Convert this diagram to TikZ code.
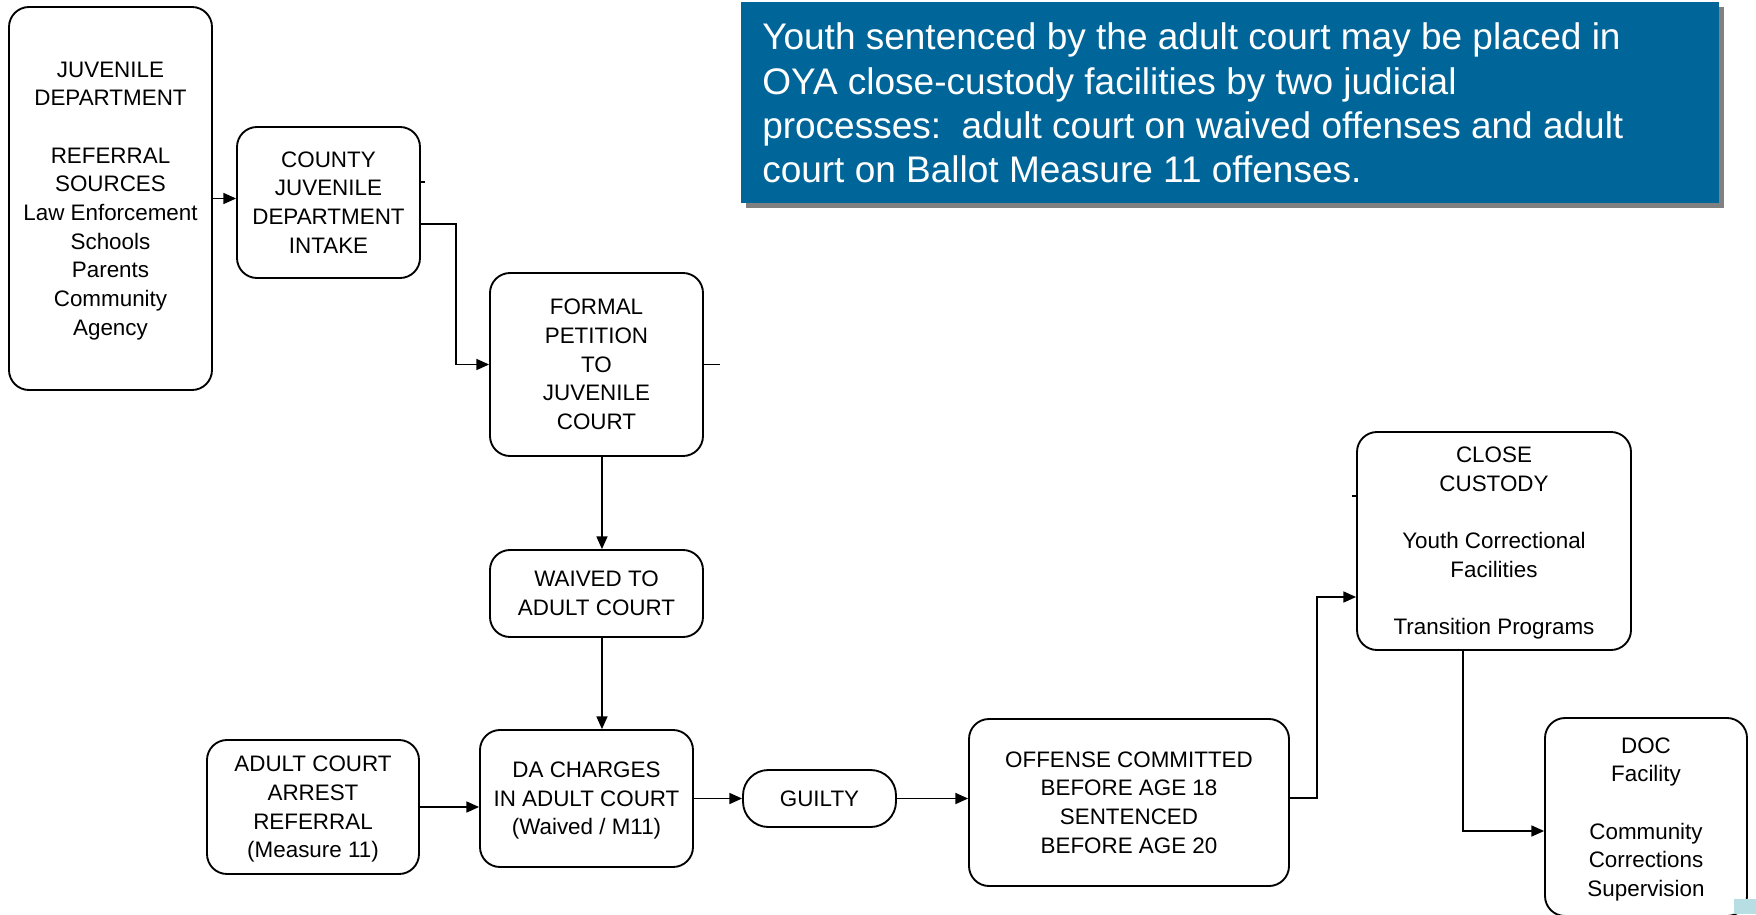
\documentclass[tikz,border=0pt]{standalone}
\usepackage{fontspec}
\setmainfont{Liberation Sans}
\usetikzlibrary{arrows.meta,shadows}
\definecolor{noteblue}{RGB}{0,102,153}
\definecolor{shadowgray}{RGB}{128,128,128}
\definecolor{cornerteal}{RGB}{183,222,226}
\begin{document}
\begin{tikzpicture}[x=0.75pt,y=-0.75pt,
  box/.style={draw=black, line width=1.4pt, rounded corners=15pt, align=center, inner sep=0pt,
    text depth=0pt, font=\fontsize{16.8pt}{21.5pt}\selectfont},
  arr/.style={line width=1pt, -{Triangle[length=9.5pt,width=8.3pt]}},
  conn/.style={line width=1pt},
  notebox/.style={fill=noteblue, inner sep=0pt,
    drop shadow={opacity=1, fill=shadowgray, shadow xshift=3.75pt, shadow yshift=-3.75pt}},
  notetxt/.style={text=white, align=left, inner sep=0pt, font=\fontsize{27.75pt}{33.2pt}\selectfont}
]
\useasboundingbox (0,0) rectangle (1756,914);

% note box
\node[notebox, minimum width=733.5pt, minimum height=150.75pt] (note) at (1230,102.5) {};
\node[notetxt, anchor=west] (notetext) at (762,103) {Youth sentenced by the adult court may be placed in\\OYA close-custody facilities by two judicial\\processes:\ \ adult court on waived offenses and adult\\court on Ballot Measure 11 offenses.};

% boxes
\node[box, minimum width=152.25pt, minimum height=287.25pt] (juv) at (110.5,198.5)
  {JUVENILE\\DEPARTMENT\\[21.5pt]REFERRAL\\SOURCES\\Law Enforcement\\Schools\\Parents\\Community\\Agency};
\node[box, minimum width=137.25pt, minimum height=113.25pt] (county) at (328.5,202.5)
  {COUNTY\\JUVENILE\\DEPARTMENT\\INTAKE};
\node[box, minimum width=159.75pt, minimum height=137.25pt] (formal) at (596.5,364.5)
  {FORMAL\\PETITION\\TO\\JUVENILE\\COURT};
\node[box, minimum width=159.75pt, minimum height=65.25pt] (waived) at (596.5,593.5)
  {WAIVED TO\\ADULT COURT};
\node[box, minimum width=159pt, minimum height=100.5pt] (adult) at (313,807)
  {ADULT COURT\\ARREST\\REFERRAL\\(Measure 11)};
\node[box, minimum width=159.75pt, minimum height=102.75pt] (da) at (586.5,798.5)
  {DA CHARGES\\IN ADULT COURT\\(Waived / M11)};
\node[box, rounded corners=19pt, minimum width=114.75pt, minimum height=42.75pt] (guilty) at (819.5,798.5)
  {GUILTY};
\node[box, minimum width=240pt, minimum height=125.25pt] (offense) at (1129,802.5)
  {OFFENSE COMMITTED\\BEFORE AGE 18\\SENTENCED\\BEFORE AGE 20};
\node[box, minimum width=205.5pt, minimum height=163.5pt] (close) at (1494,541)
  {CLOSE\\CUSTODY\\[21.5pt]Youth Correctional\\Facilities\\[21.5pt]Transition Programs};
\node[box, minimum width=151.5pt, minimum height=148.5pt] (doc) at (1646,817)
  {DOC\\Facility\\[21.5pt]Community\\Corrections\\Supervision};

% connectors
\draw[arr] (juv.east) -- (juv.east -| county.west);
\draw[conn] ([yshift=15.4pt]county.east) -- ++(4,0) coordinate (stubA);
\draw[arr] ([yshift=-16.1pt]county.east) -- ++(35,0) |- (formal.west);
\draw[conn] (formal.east) -- ++(16,0) coordinate (stubB);
\draw[arr] ([xshift=4.1pt]formal.south) -- ([xshift=4.1pt]waived.north);
\draw[arr] ([xshift=4.1pt]waived.south) -- ([xshift=4.1pt]waived.south |- da.north);
\draw[arr] (adult.east) -- (adult.east -| da.west);
\draw[arr] (da.east) -- (guilty.west);
\draw[arr] (guilty.east) -- (guilty.east -| offense.west);
\draw[arr] ([yshift=3.4pt]offense.east) -- ++(27,0) |- ([yshift=-42pt]close.west);
\draw[conn] ([yshift=33.75pt]close.west) -- ++(-4,0) coordinate (stubC);
\draw[arr] ([xshift=-23.25pt]close.south) |- ([yshift=-10.5pt]doc.west);

% corner mark
\fill[cornerteal] (1734,899) rectangle (1756,914);
\end{tikzpicture}
\end{document}
